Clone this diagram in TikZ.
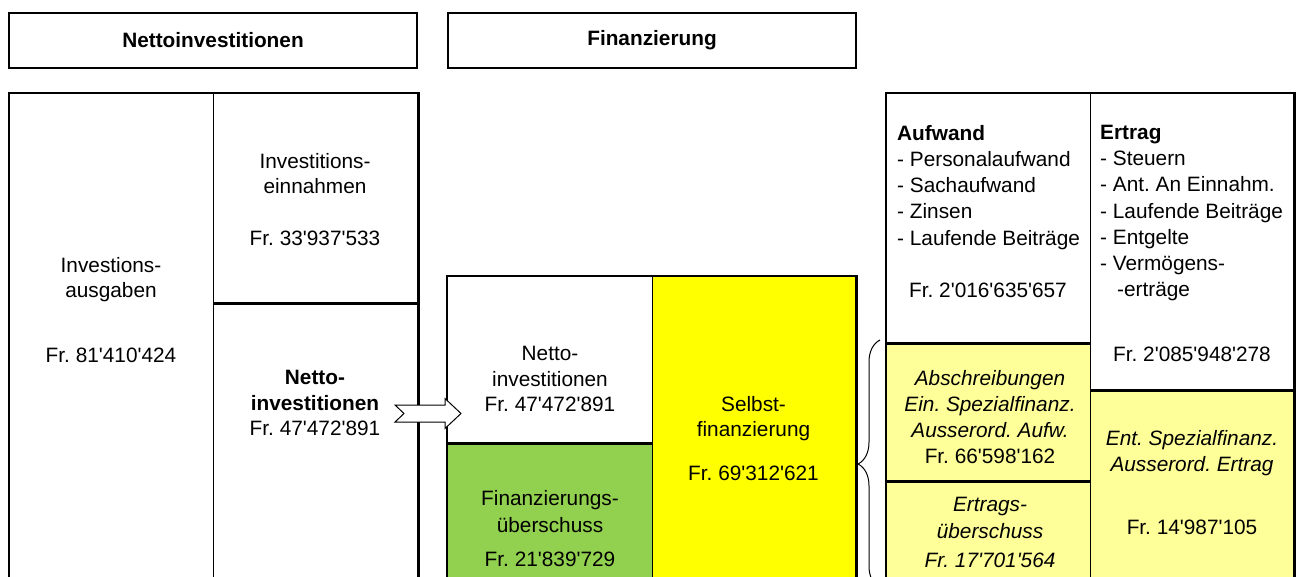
\documentclass[tikz,border=0pt]{standalone}
\usepackage{fontspec}
\setmainfont{Liberation Sans}[Ligatures=TeXOff]
\usetikzlibrary{positioning,decorations.pathreplacing}
\frenchspacing

\definecolor{gruen}{HTML}{92D050}
\definecolor{gelb}{HTML}{FFFF00}
\definecolor{hellgelb}{HTML}{FFFF99}

\begin{document}
\begin{tikzpicture}[
      x=1pt, y=-1pt,
      font=\fontsize{20.8pt}{25.5pt}\selectfont
    ]

    \tikzstyle{kopf} = [
        rectangle,
        draw,
        line width=2pt,
        minimum width=408pt,
        minimum height=55pt,
        font=\fontsize{20.8pt}{25.5pt}\selectfont\bfseries
    ]

    \tikzstyle{zelle} = [
        rectangle,
        draw,
        line width=1.4pt,
        anchor=north west,
        inner sep=0pt
    ]

    \tikzstyle{beschr} = [
        align=center,
        anchor=north,
        inner sep=0pt
    ]

    \tikzstyle{liste} = [
        align=left,
        anchor=north west,
        inner sep=0pt,
        font=\fontsize{20.8pt}{26.2pt}\selectfont
    ]

    \tikzstyle{kursiv} = [
        beschr,
        font=\fontsize{20.8pt}{26pt}\selectfont\itshape
    ]

    \tikzstyle{rahmen} = [
        draw,
        line width=2.4pt
    ]

    \useasboundingbox (0,0) rectangle (1297,576);
    \clip (0,0) rectangle (1297,576);

    % Kopfzeilen
    \node [kopf]                      (kopfNetto) at (213,40.5) {Nettoinvestitionen};
    \node [kopf, right=29pt of kopfNetto] (kopfFin) {Finanzierung};

    % Nettoinvestitionen
    \node [zelle, minimum width=204pt, minimum height=500pt] (ausg)   at (9,93)    {};
    \node [zelle, minimum width=204pt, minimum height=209pt] (einn)   at (213,93)  {};
    \node [zelle, minimum width=204pt, minimum height=290pt] (nettoL) at (213,302) {};

    % Finanzierung
    \node [zelle, minimum width=205pt, minimum height=166pt]              (nettoM) at (447,276) {};
    \node [zelle, fill=gruen, minimum width=205pt, minimum height=150pt]  (fueber) at (447,442) {};
    \node [zelle, fill=gelb, minimum width=203pt, minimum height=316pt]   (selbst) at (652,276) {};

    % Laufende Rechnung
    \node [zelle, minimum width=204pt, minimum height=249pt]                (aufw)   at (886,93)   {};
    \node [zelle, minimum width=203pt, minimum height=296pt]                (ertr)   at (1090,93)  {};
    \node [zelle, fill=hellgelb, minimum width=204pt, minimum height=138pt] (abschr) at (886,342)  {};
    \node [zelle, fill=hellgelb, minimum width=204pt, minimum height=112pt] (eueber) at (886,480)  {};
    \node [zelle, fill=hellgelb, minimum width=203pt, minimum height=203pt] (entn)   at (1090,389) {};

    \draw [rahmen] (ausg.north west) rectangle (nettoL.south east);
    \draw [rahmen] (nettoM.north west) rectangle (selbst.south east);
    \draw [rahmen] (aufw.north west) rectangle (entn.south east);
    \draw [rahmen] (einn.south west) -- (einn.south east);
    \draw [rahmen] (nettoM.south west) -- (nettoM.south east);
    \draw [rahmen] (aufw.south west) -- (aufw.south east);
    \draw [rahmen] (abschr.south west) -- (abschr.south east);
    \draw [rahmen] (ertr.south west) -- (ertr.south east);

    % Texte
    \node [beschr] (tAusg)   at (111,257) {Investions-\\ausgaben\\[39pt]Fr. 81'410'424};
    \node [beschr] (tEinn)   at (315,153) {Investitions-\\einnahmen\\[26.5pt]Fr. 33'937'533};
    \node [beschr] (tNettoL) at (315,370) {\textbf{Netto-}\\\textbf{investitionen}\\Fr. 47'472'891};
    \node [beschr] (tNettoM) at (550,346) {Netto-\\investitionen\\Fr. 47'472'891};
    \node [beschr] (tFueber) at (550,490) {Finanzierungs-\\[1.5pt]überschuss\\[8.5pt]Fr. 21'839'729};
    \node [beschr] (tSelbst) at (753.5,396) {Selbst-\\finanzierung\\[18.5pt]Fr. 69'312'621};

    \node [liste] (tAufw) at (897,125)  {\textbf{Aufwand}\\- Personalaufwand\\- Sachaufwand\\- Zinsen\\- Laufende Beiträge};
    \node [anchor=base, inner sep=0pt] (tAufwFr) at (988,297) {Fr. 2'016'635'657};
    \node [liste] (tErtr) at (1100,125) {\textbf{Ertrag}\\- Steuern\\- Ant. An Einnahm.\\- Laufende Beiträge\\- Entgelte\\- Vermögens-\\\hspace{17pt}-erträge};
    \node [anchor=base, inner sep=0pt] (tErtrFr) at (1192,361) {Fr. 2'085'948'278};

    \node [kursiv] (tAbschr) at (990,370)  {Abschreibungen\\Ein. Spezialfinanz.\\Ausserord. Aufw.\\\textup{Fr. 66'598'162}};
    \node [kursiv] (tEUeber) at (990,497)  {Ertrags-\\[1pt]überschuss\\[3pt]Fr. 17'701'564};
    \node [kursiv] (tEnt)    at (1192,430) {Ent. Spezialfinanz.\\Ausserord. Ertrag\\[37pt]\textup{Fr. 14'987'105}};

    % Pfeil und Klammer
    \draw [fill=white, line width=1pt] (395,405) -- (404,413.5) -- (395,422) -- (445,422)
        -- (445,428.5) -- (461,413.5) -- (445,398.5) -- (445,405) -- cycle;
    \draw [decorate, decoration={brace, amplitude=22pt}, line width=1pt] (880,588) -- (880,340);

\end{tikzpicture}
\end{document}
